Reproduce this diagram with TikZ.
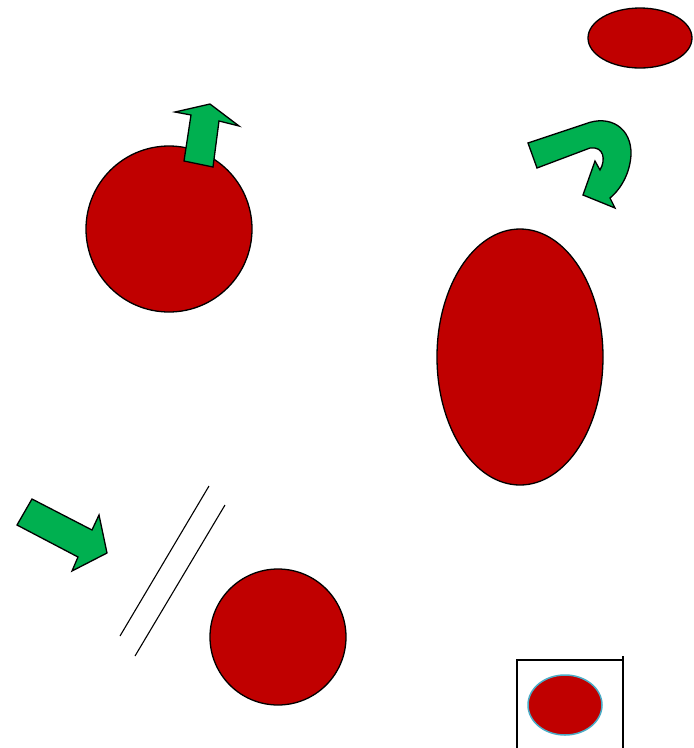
\documentclass[tikz,border=0pt]{standalone}
\definecolor{dred}{HTML}{C00000}
\definecolor{lgreen}{HTML}{00B050}
\definecolor{cyanedge}{HTML}{4BACC6}
\begin{document}
\begin{tikzpicture}[x=1pt,y=-1pt,
  blob/.style={fill=dred,draw=black,line width=1.3pt},
  garrow/.style={fill=lgreen,draw=black,line width=1.3pt,line join=miter},
  thin line/.style={draw=black,line width=1.1pt}]
\useasboundingbox (0,0) rectangle (694,748);
% red shapes
\draw[blob] (169,229) circle[radius=83];
\draw[blob] (520,357) ellipse[x radius=83,y radius=128];
\draw[blob] (640,38) ellipse[x radius=52,y radius=30];
\draw[blob] (278,637) circle[radius=68];
\draw[fill=dred,draw=cyanedge,line width=1.5pt] (565,705) ellipse[x radius=37,y radius=30];
% up arrow
\draw[garrow] (184,161) -- (213,167) -- (219,121) -- (239,126) -- (210,104) -- (175,112) -- (191,115) -- cycle;
% left arrow
\draw[garrow] (32,499) -- (92,530) -- (99,515) -- (107,553) -- (72,571) -- (78,557) -- (17,525) -- cycle;
% u-turn arrow
\draw[garrow] (528,143) -- (585,124)
  .. controls (610,114) and (632,128) .. (631,155)
  .. controls (630,172) and (622,188) .. (610,198)
  -- (615,208) -- (583,195) -- (595,161) -- (600,170)
  .. controls (606,160) and (604,146) .. (590,148)
  -- (537,168) -- cycle;
% parallel lines
\draw[thin line] (120,636) -- (209,486);
\draw[thin line] (135,656) -- (225,505);
% box
\draw[black,line width=1.4pt] (517,748) -- (517,660) -- (623,660);
\draw[black,line width=1.4pt] (623,656) -- (623,748);
\end{tikzpicture}
\end{document}
